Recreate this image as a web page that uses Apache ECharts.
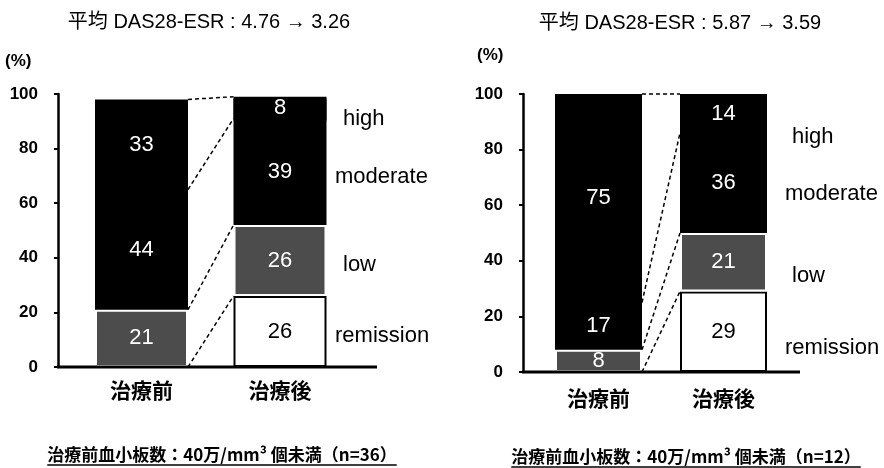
<!DOCTYPE html>
<html><head><meta charset="utf-8">
<script src="https://cdn.jsdelivr.net/npm/echarts@6/dist/echarts.min.js"></script>
<style>html,body{margin:0;padding:0;background:#fff}#c{width:884px;height:468px}</style>
</head><body><div id="c"></div>
<script>
// ---- data ----
const categories = ['治療前', '治療後'];
const levels = ['remission', 'low', 'moderate', 'high'];
// left panel (n=36)
const leftRemission = [0, 26];
const leftLow = [21, 26];
const leftModerate = [44, 39];
const leftHigh = [33, 8];
// right panel (n=12)
const rightRemission = [0, 29];
const rightLow = [8, 21];
const rightModerate = [17, 36];
const rightHigh = [75, 14];
const yMin = 0, yMax = 100, yStep = 20;
const leftTitle = '平均 DAS28-ESR : 4.76 → 3.26';
const rightTitle = '平均 DAS28-ESR : 5.87 → 3.59';
const leftNote = '治療前血小板数：40万/mm³ 個未満（n=36）';
const rightNote = '治療前血小板数：40万/mm³ 個未満（n=12）';
const unitLabel = '(%)';

// ---- layout / style ----
const FONT = "'Liberation Sans', 'Noto Sans CJK JP', sans-serif";
const CJK = "'Noto Sans CJK JP', sans-serif";
const panels = [
  { arrs: [leftRemission, leftLow, leftModerate, leftHigh], title: leftTitle, note: leftNote,
    grid: { left: 72.25, top: 94, width: 277, height: 273 }, yAxisX: 58, xLineEnd: 377, bw: 93,
    titleX: 209, titleY: 22, unitX: 5, unitY: 61, noteX: 222, noteY: 455, catMargin: 13,
    lvlPos: [[335, 336], [343, 265], [335, 177], [343, 119]] },
  { arrs: [rightRemission, rightLow, rightModerate, rightHigh], title: rightTitle, note: rightNote,
    grid: { left: 536, top: 94, width: 250, height: 278 }, yAxisX: 523, xLineEnd: 800, bw: 87,
    titleX: 680, titleY: 23, unitX: 477, unitY: 55, noteX: 686, noteY: 457, catMargin: 16,
    lvlPos: [[785, 348], [792, 276], [785, 194], [792, 137]] }
];
const segStyles = [
  { color: '#ffffff', borderColor: '#000', borderWidth: 2 },
  { color: '#4c4c4c', borderColor: '#ffffff', borderWidth: 2 },
  { color: '#000000' },
  // shadow pushed downward hides the anti-aliasing seam against the black segment below
  { color: '#000000', shadowColor: '#000000', shadowBlur: 0, shadowOffsetY: 2 }
];

const grids = [], xAxes = [], yAxes = [], series = [], graphic = [];
const measure = document.createElement('canvas').getContext('2d');

panels.forEach((p, i) => {
  grids.push(p.grid);
  xAxes.push({ type: 'category', gridIndex: i, data: categories,
    axisLine: { show: false }, axisTick: { show: false },
    axisLabel: { color: '#000', fontSize: 21, fontWeight: 'bold', fontFamily: CJK, margin: p.catMargin } });
  yAxes.push({ type: 'value', gridIndex: i, min: yMin, max: yMax, interval: yStep,
    offset: p.grid.left - p.yAxisX,
    axisLine: { show: true, lineStyle: { color: '#000', width: 2.5 } },
    axisTick: { show: true, length: 4, lineStyle: { color: '#000', width: 2 } },
    axisLabel: { color: '#000', fontSize: 17, fontWeight: 'bold', fontFamily: FONT, margin: 20 },
    splitLine: { show: false } });
  p.arrs.forEach((arr, k) => {
    series.push({ type: 'bar', name: levels[k], xAxisIndex: i, yAxisIndex: i, stack: 'S' + i,
      data: arr, barWidth: p.bw, itemStyle: segStyles[k],
      label: { show: true, position: 'inside', color: k === 0 ? '#000' : '#fff', fontSize: 22,
        fontFamily: FONT, textShadowBlur: 0, formatter: q => (q.value ? String(q.value) : '') } });
  });
  // connectors between cumulative boundaries
  let sb = 0, sa = 0;
  const conn = p.arrs.map(arr => { sb += arr[0]; sa += arr[1]; return [0, sb, sa]; });
  const bw = p.bw;
  series.push({ type: 'custom', xAxisIndex: i, yAxisIndex: i, data: conn,
    encode: { x: 0, y: 1 }, silent: true, z: 5,
    renderItem: (params, api) => {
      const a = api.coord([0, api.value(1)]);
      const b = api.coord([1, api.value(2)]);
      return { type: 'line', shape: { x1: a[0] + bw / 2, y1: a[1], x2: b[0] - bw / 2, y2: b[1] },
        style: { stroke: '#000', lineWidth: 1.5, lineDash: [4, 3] } };
    } });
  // x axis line
  const y0 = p.grid.top + p.grid.height;
  graphic.push({ type: 'line', shape: { x1: p.yAxisX - 1, y1: y0, x2: p.xLineEnd, y2: y0 },
    style: { stroke: '#000', lineWidth: 3 }, z: 10 });
  // title
  graphic.push({ type: 'text', x: p.titleX, y: p.titleY,
    style: { text: p.title, font: '20px ' + FONT, fill: '#000', align: 'center', verticalAlign: 'middle' } });
  graphic.push({ type: 'text', x: p.unitX, y: p.unitY,
    style: { text: unitLabel, font: 'bold 17px ' + FONT, fill: '#000', align: 'left', verticalAlign: 'middle' } });
  // level names
  levels.forEach((lv, k) => {
    graphic.push({ type: 'text', x: p.lvlPos[k][0], y: p.lvlPos[k][1],
      style: { text: lv, font: '22px ' + FONT, fill: '#000', align: 'left', verticalAlign: 'middle' } });
  });
  // footnote with underline
  const nf = 'bold 17px ' + CJK;
  measure.font = nf;
  const w = measure.measureText(p.note).width;
  graphic.push({ type: 'text', x: p.noteX, y: p.noteY,
    style: { text: p.note, font: nf, fill: '#000', align: 'center', verticalAlign: 'middle' } });
  graphic.push({ type: 'line', shape: { x1: p.noteX - w / 2, y1: p.noteY + 10, x2: p.noteX + w / 2, y2: p.noteY + 10 },
    style: { stroke: '#000', lineWidth: 1.5 } });
});

const chart = echarts.init(document.getElementById('c'), null, { renderer: 'canvas' });
chart.setOption({ animation: false, backgroundColor: '#fff', grid: grids, xAxis: xAxes, yAxis: yAxes,
  series: series, graphic: graphic });
</script></body></html>
